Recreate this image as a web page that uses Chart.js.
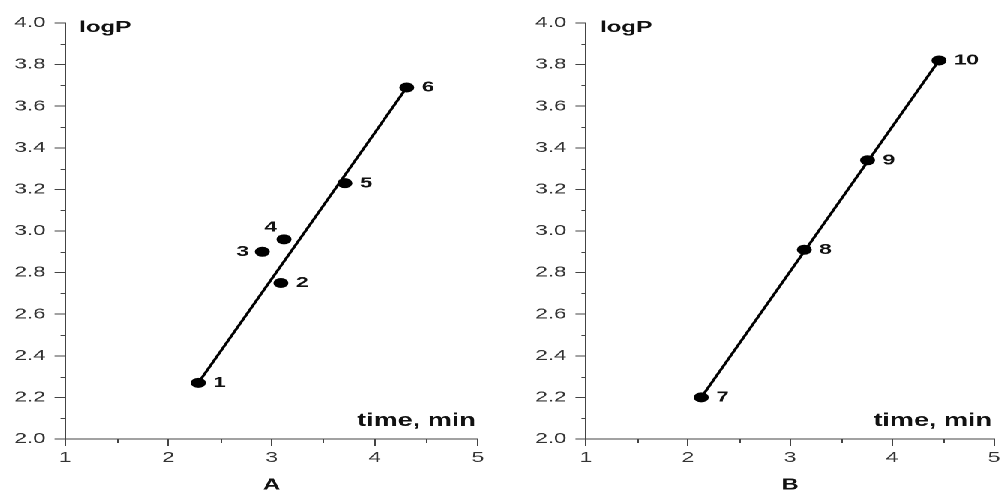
<!DOCTYPE html>
<html>
<head>
<meta charset="utf-8">
<script src="https://cdn.jsdelivr.net/npm/chart.js@4/dist/chart.umd.min.js"></script>
<style>
  html, body { margin: 0; padding: 0; background: #fff; overflow: hidden; }
  /* the original figure is stretched sideways, so the charts are drawn narrow and scaled */
  #stage { position: absolute; left: 0; top: 0; width: 670px; height: 493px; transform: scaleX(1.5); transform-origin: 0 0; }
  .panel { position: absolute; top: 0; width: 335px; height: 493px; }
  #panel-a { left: 0; }
  #panel-b { left: 335px; }
</style>
</head>
<body>
<div id="stage">
  <div class="panel" id="panel-a"><canvas id="chart-a"></canvas></div>
  <div class="panel" id="panel-b"><canvas id="chart-b"></canvas></div>
</div>
<script>
// ── Data ───────────────────────────────────────────────────────────

const numbersA = ["1", "2", "3", "4", "5", "6"];
const timeA = [2.29, 3.09, 2.91, 3.12, 3.71, 4.31];
const logPA = [2.27, 2.75, 2.90, 2.96, 3.23, 3.69];
const fitTimeA = [2.29, 4.31];
const fitLogPA = [2.27, 3.69];

const numbersB = ["7", "8", "9", "10"];
const timeB = [2.13, 3.14, 3.76, 4.46];
const logPB = [2.20, 2.91, 3.34, 3.82];
const fitTimeB = [2.13, 4.46];
const fitLogPB = [2.20, 3.82];

const xTicks = [1, 2, 3, 4, 5];
const xMinorTicks = [1.5, 2.5, 3.5, 4.5];
const yTicks = [2.0, 2.2, 2.4, 2.6, 2.8, 3.0, 3.2, 3.4, 3.6, 3.8, 4.0];
const yMinorTicks = [2.1, 2.3, 2.5, 2.7, 2.9, 3.1, 3.3, 3.5, 3.7, 3.9];

// where each point number sits relative to its dot (default: right)
const labelSide = { "3": "left", "4": "top" };

const FONT = "'Liberation Sans', Arial, sans-serif";
Chart.defaults.font.family = FONT;

// ── Plugins ────────────────────────────────────────────────────────

const minorTicksPlugin = {
  id: "minorTicks",
  afterDraw: function (chart) {
    const ctx = chart.ctx;
    const xs = chart.scales.x;
    const ys = chart.scales.y;
    ctx.save();
    ctx.strokeStyle = "#444";
    ctx.lineWidth = 1;
    ctx.beginPath();
    xMinorTicks.forEach(function (v) {
      const px = Math.round(xs.getPixelForValue(v)) + 0.5;
      ctx.moveTo(px, xs.top);
      ctx.lineTo(px, xs.top + 4);
    });
    yMinorTicks.forEach(function (v) {
      const py = Math.round(ys.getPixelForValue(v)) + 0.5;
      ctx.moveTo(ys.right - 3, py);
      ctx.lineTo(ys.right, py);
    });
    ctx.stroke();
    ctx.restore();
  },
};

const textPlugin = {
  id: "panelText",
  afterDatasetsDraw: function (chart, args, opts) {
    const ctx = chart.ctx;
    const area = chart.chartArea;
    ctx.save();
    ctx.fillStyle = "#111";

    // point numbers
    ctx.font = "bold 15px " + FONT;
    ctx.textBaseline = "middle";
    const meta = chart.getDatasetMeta(0);
    meta.data.forEach(function (pt, i) {
      const txt = opts.numbers[i];
      const side = labelSide[txt] || "right";
      if (side === "left") {
        ctx.textAlign = "right";
        ctx.fillText(txt, pt.x - 9, pt.y);
      } else if (side === "top") {
        ctx.textAlign = "center";
        ctx.fillText(txt, pt.x - 9, pt.y - 12);
      } else {
        ctx.textAlign = "left";
        ctx.fillText(txt, pt.x + 10, pt.y);
      }
    });

    // axis captions inside the plot
    ctx.textBaseline = "alphabetic";
    ctx.textAlign = "left";
    ctx.font = "bold 16px " + FONT;
    ctx.fillText("logP", area.left + 9.5, area.top + 9);
    ctx.textAlign = "right";
    ctx.font = "bold 18px " + FONT;
    ctx.fillText("time, min", area.right - 1.5, area.bottom - 13);
    ctx.restore();
  },
};

// ── Chart builder ──────────────────────────────────────────────────

function buildPanel(canvasId, letter, numbers, times, logPs, fitTimes, fitLogPs, yWidth, padRight) {
  const points = times.map(function (t, i) { return { x: t, y: logPs[i] }; });
  const fit = fitTimes.map(function (t, i) { return { x: t, y: fitLogPs[i] }; });

  return new Chart(document.getElementById(canvasId), {
    type: "scatter",
    data: {
      datasets: [
        {
          data: points,
          pointRadius: 5,
          pointHoverRadius: 5,
          backgroundColor: "#000",
          borderWidth: 0,
        },
        {
          data: fit,
          showLine: true,
          borderColor: "#000",
          borderWidth: 2,
          pointRadius: 0,
        },
      ],
    },
    options: {
      responsive: true,
      maintainAspectRatio: false,
      animation: false,
      devicePixelRatio: 2,
      events: [],
      layout: { padding: { top: 23, right: padRight, left: 0, bottom: 0 } },
      plugins: {
        legend: { display: false },
        tooltip: { enabled: false },
        panelText: { numbers: numbers },
      },
      scales: {
        x: {
          type: "linear",
          min: 1,
          max: 5,
          afterBuildTicks: function (scale) {
            scale.ticks = xTicks.map(function (v) { return { value: v }; });
          },
          afterFit: function (scale) { scale.height = 54; },
          border: { color: "#444", width: 1 },
          grid: { drawOnChartArea: false, drawTicks: true, tickLength: 7, color: "#444" },
          ticks: { color: "#333", font: { size: 15 }, padding: 3, maxRotation: 0 },
          title: {
            display: true,
            text: letter,
            color: "#111",
            font: { size: 16, weight: "bold", lineHeight: 1 },
            padding: 0,
          },
        },
        y: {
          type: "linear",
          min: 2,
          max: 4,
          afterBuildTicks: function (scale) {
            scale.ticks = yTicks.map(function (v) { return { value: v }; });
          },
          afterFit: function (scale) { scale.width = yWidth; },
          border: { color: "#444", width: 1 },
          grid: { drawOnChartArea: false, drawTicks: true, tickLength: 7, color: "#444" },
          ticks: {
            color: "#333",
            font: { size: 15 },
            padding: 6,
            callback: function (v) { return Number(v).toFixed(1); },
          },
        },
      },
    },
    plugins: [minorTicksPlugin, textPlugin],
  });
}

buildPanel("chart-a", "A", numbersA, timeA, logPA, fitTimeA, fitLogPA, 43.3, 16.3);
buildPanel("chart-b", "B", numbersB, timeB, logPB, fitTimeB, fitLogPB, 55.7, 4.7);
</script>
</body>
</html>
